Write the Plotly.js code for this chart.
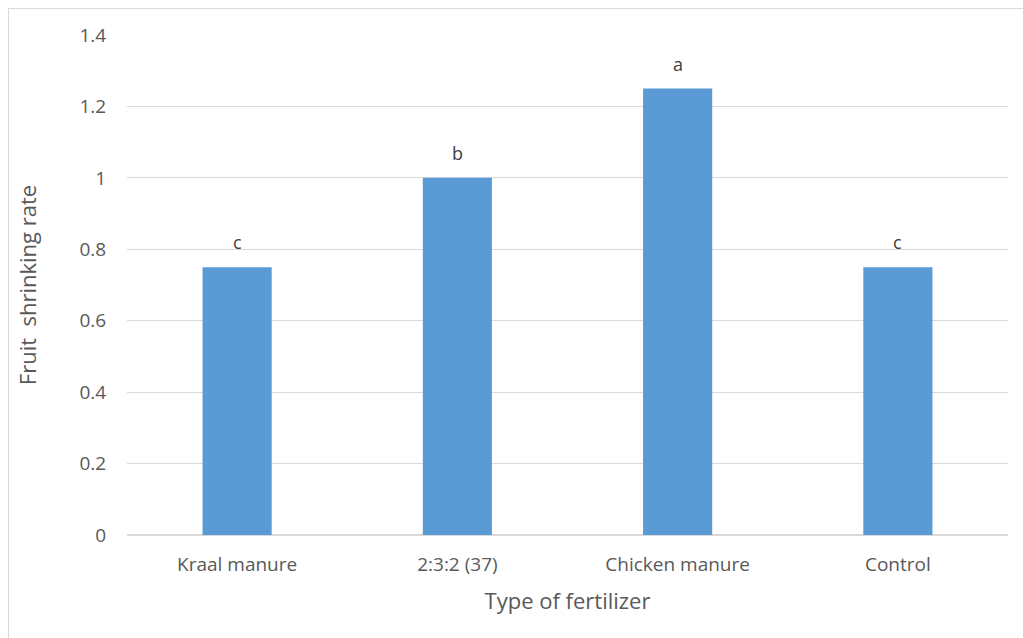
<!DOCTYPE html>
<html>
<head>
<meta charset="utf-8">
<script src="https://cdn.plot.ly/plotly-3.0.1.min.js"></script>
<style>
html,body{margin:0;padding:0;background:#fff;overflow:hidden;}
#frame{position:absolute;left:8px;top:8px;width:1030px;height:650px;border:1px solid #d9d9d9;box-sizing:border-box;}
#chart{position:absolute;left:0;top:0;width:1023px;height:638px;}
</style>
</head>
<body>
<div id="frame"></div>
<div id="chart"></div>
<script>
const categories = ["Kraal manure", "2:3:2 (37)", "Chicken manure", "Control"];
const values = [0.75, 1.0, 1.25, 0.75];
const letters = ["c", "b", "a", "c"];
const yTicks = [0, 0.2, 0.4, 0.6, 0.8, 1, 1.2, 1.4];

const fontFam = "Open Sans, Liberation Sans, sans-serif";
const textCol = "#595959";

const trace = {
  type: "bar",
  x: categories,
  y: values,
  marker: {color: "#5b9bd5"},
  hoverinfo: "none"
};

const annotations = categories.map((c, i) => ({
  x: c, y: values[i], text: letters[i], showarrow: false,
  xref: "x", yref: "y", yanchor: "bottom", yshift: 11,
  font: {family: fontFam, size: 18, color: "#404040"}
}));

const layout = {
  width: 1023, height: 638,
  margin: {l: 127, r: 15, t: 35, b: 103},
  paper_bgcolor: "rgba(0,0,0,0)",
  plot_bgcolor: "rgba(0,0,0,0)",
  bargap: 0.686,
  showlegend: false,
  font: {family: fontFam, color: textCol},
  xaxis: {
    type: "category",
    tickfont: {size: 19, color: textCol},
    ticks: "outside", ticklen: 12, tickcolor: "rgba(0,0,0,0)",
    showgrid: false, zeroline: false,
    showline: false,
    title: {text: "Type of fertilizer", font: {size: 22, color: textCol}, standoff: 17}
  },
  yaxis: {
    range: [0, 1.4],
    tickvals: yTicks,
    ticktext: yTicks.map(v => String(v)),
    tickfont: {size: 19, color: textCol},
    gridcolor: "#d9d9d9", gridwidth: 1,
    zeroline: true, zerolinecolor: "#d9d9d9", zerolinewidth: 2,
    ticks: "outside", ticklen: 16, tickcolor: "rgba(0,0,0,0)",
    showline: false,
    title: {text: "Fruit  shrinking rate", font: {size: 22, color: textCol}, standoff: 36}
  },
  annotations: annotations
};

Plotly.newPlot("chart", [trace], layout, {displayModeBar: false, staticPlot: true});
</script>
</body>
</html>
